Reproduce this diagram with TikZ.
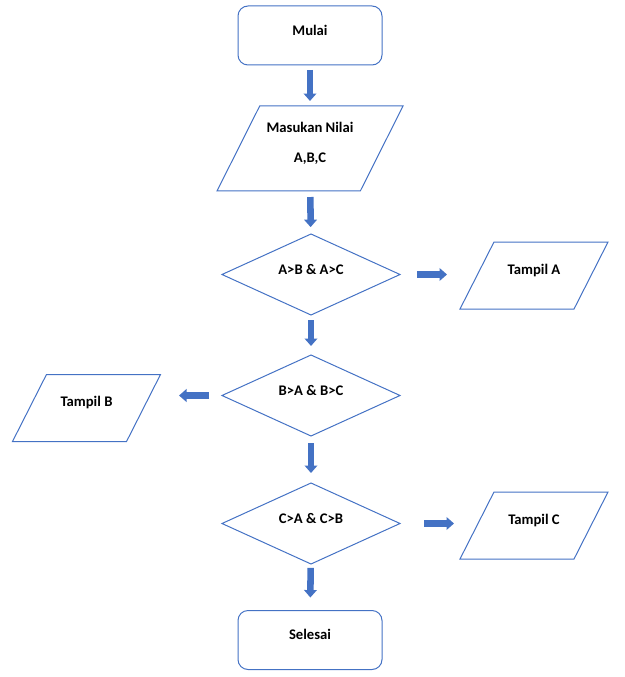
\documentclass[tikz,border=0pt]{standalone}
\usepackage{fontspec}
\setmainfont{Carlito}
\usetikzlibrary{shapes.geometric,arrows.meta}
\definecolor{garis}{HTML}{4472C4}
\definecolor{panah}{HTML}{4472C4}
\tikzset{
  teks/.style={font=\fontsize{11}{13.5}\selectfont\bfseries, align=center, yshift=4pt},
  terminal/.style={draw=garis, line width=0.75pt, rectangle, rounded corners=7.5pt,
    minimum width=108pt, minimum height=44.25pt, inner sep=0pt, outer sep=0pt,
    label={[teks]center:#1}},
  io/.style={draw=garis, line width=0.75pt, trapezium, trapezium left angle=67,
    trapezium right angle=113, trapezium stretches=true,
    minimum width=111pt, minimum height=50.25pt, inner sep=2pt, outer sep=0pt,
    label={[teks]center:#1}},
  cek/.style={draw=garis, line width=0.75pt, diamond,
    minimum width=133.5pt, minimum height=60.75pt, inner sep=2pt, outer sep=0pt,
    label={[teks]center:#1}},
  blok/.style={draw=panah, line width=4.9pt, -{Triangle[width=9.4pt,length=5.6pt]}}
}
\begin{document}
\begin{tikzpicture}[x=0.75pt, y=-0.75pt]
    \useasboundingbox (0,0) rectangle (624,677);
    \node[terminal=Mulai] (mulai) at (310,35.5) {};
    \node[io={Masukan Nilai\\[9pt]A,B,C}, minimum width=139.5pt, minimum height=63.75pt] (masukan) at (310,148.5) {};
    \node[cek={A>B \& A>C}] (cek1) at (311,274.5) {};
    \node[io={Tampil A}] (tampilA) at (534,275.5) {};
    \node[cek={B>A \& B>C}] (cek2) at (311,395.5) {};
    \node[io={Tampil B}] (tampilB) at (86.5,408) {};
    \node[cek={C>A \& C>B}] (cek3) at (311,523.5) {};
    \node[io={Tampil C}] (tampilC) at (534,525.5) {};
    \node[terminal=Selesai] (selesai) at (310,640) {};
    % alur utama
    \draw[blok, shorten <=3.75pt, shorten >=3.75pt] (mulai) -- (masukan);
    \draw[blok, shorten <=4.5pt, shorten >=5.25pt] (masukan) -- (cek1);
    \draw[blok, shorten <=3.75pt, shorten >=6.75pt] (cek1) -- (cek2);
    \draw[blok, shorten <=5.25pt, shorten >=7.5pt] (cek2) -- (cek3);
    \draw[blok, shorten <=3pt, shorten >=9.75pt] (cek3) -- (selesai);
    % ke output
    \draw[blok, shorten <=12.75pt, shorten >=65.25pt] (cek1) -- (cek1 -| tampilA);
    \draw[blok, shorten <=9.75pt, shorten >=69.4pt] (cek2) -- (cek2 -| tampilB);
    \draw[blok, shorten <=18pt, shorten >=60pt] (cek3) -- (cek3 -| tampilC);
\end{tikzpicture}
\end{document}
